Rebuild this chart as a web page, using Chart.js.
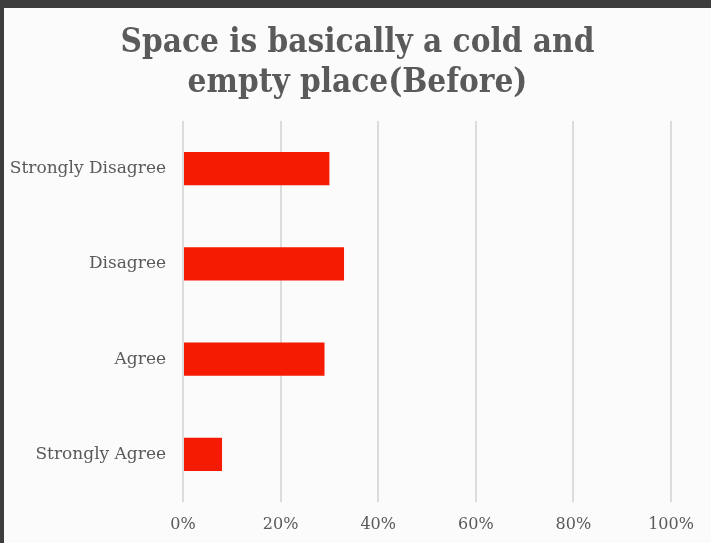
<!DOCTYPE html>
<html>
<head>
<meta charset="utf-8">
<script src="https://cdn.jsdelivr.net/npm/chart.js@4"></script>
<style>
  html, body { margin: 0; padding: 0; }
  body { width: 711px; height: 543px; background: #3d3d3d; position: relative; overflow: hidden; }
  #wrap { position: absolute; left: 4px; top: 8px; width: 707px; height: 535px; background: #fbfbfb; }
  canvas { display: block; }
</style>
</head>
<body>
<div id="wrap"><canvas id="c" width="707" height="535"></canvas></div>
<script>
const titleLines = ["Space is basically a cold and", "empty place(Before)"];
const categories = ["Strongly Disagree", "Disagree", "Agree", "Strongly Agree"];
const values = [30, 33, 29, 8];
const xTicks = [0, 20, 40, 60, 80, 100];

new Chart(document.getElementById('c'), {
  type: 'bar',
  data: {
    labels: categories,
    datasets: [{
      data: values,
      backgroundColor: '#f41b02',
      borderWidth: 0,
      barPercentage: 0.35,
      categoryPercentage: 1.0
    }]
  },
  options: {
    indexAxis: 'y',
    responsive: false,
    animation: false,
    layout: { padding: 0 },
    plugins: {
      legend: { display: false },
      tooltip: { enabled: false },
      title: {
        display: true,
        text: titleLines,
        color: '#5a5a5a',
        font: { family: 'DejaVu Serif Condensed', size: 33, weight: 'bold', lineHeight: 1.212 },
        padding: { top: 15, bottom: 18 }
      }
    },
    scales: {
      x: {
        min: 0, max: 100,
        afterBuildTicks: s => { s.ticks = xTicks.map(v => ({ value: v })); },
        afterFit: s => { s.height = 41; },
        grid: { color: '#dcdcdc', lineWidth: 2, drawTicks: false },
        border: { display: false },
        ticks: {
          color: '#5a5a5a',
          padding: 13,
          font: { family: 'DejaVu Serif', size: 16 },
          callback: v => v + '%'
        }
      },
      y: {
        afterFit: s => { s.width = 179; },
        grid: { display: false, drawTicks: false },
        border: { display: false },
        ticks: {
          color: '#5a5a5a',
          padding: 17,
          font: { family: 'DejaVu Serif', size: 17 }
        }
      },
      spacer: {
        type: 'linear',
        position: 'right',
        display: true,
        afterFit: s => { s.width = 40; },
        grid: { display: false, drawTicks: false },
        border: { display: false },
        ticks: { display: false }
      }
    }
  }
});
</script>
</body>
</html>
